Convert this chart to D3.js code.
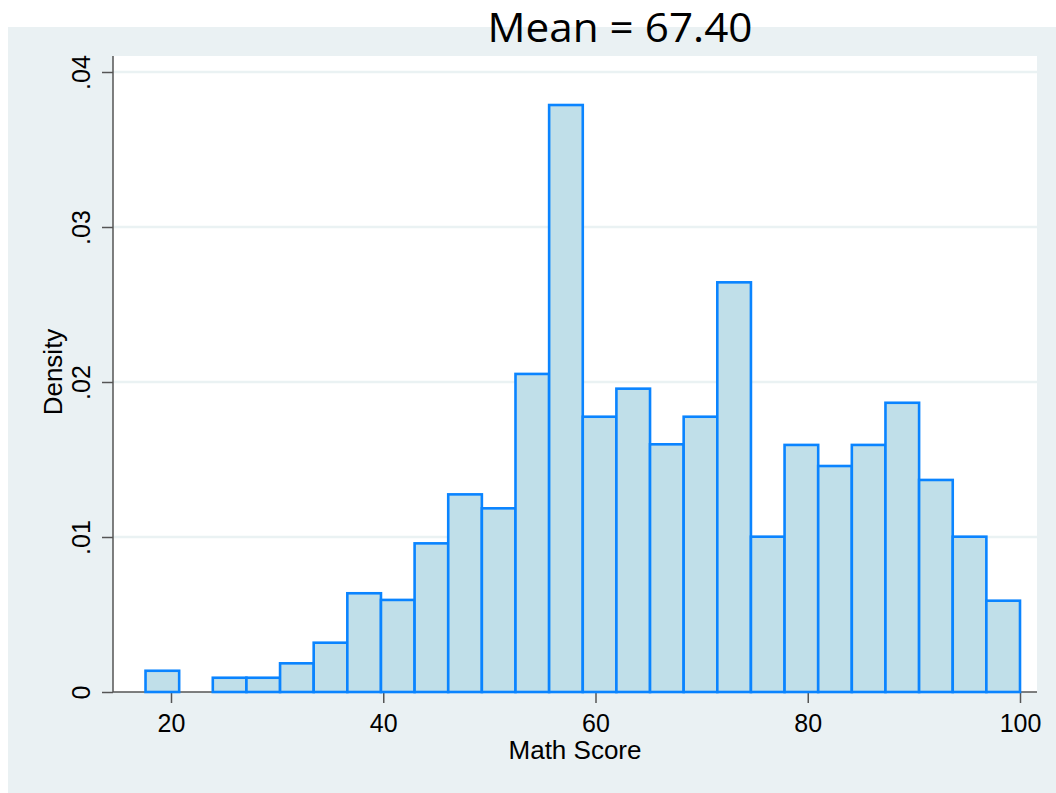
<!DOCTYPE html>
<html>
<head>
<meta charset="utf-8">
<script src="https://cdn.jsdelivr.net/npm/d3@7"></script>
<style>
  body { margin:0; background:#fff; }
  svg { display:block; }
</style>
</head>
<body>
<div id="chart"></div>
<script>
// histogram of math scores, 26 bins from 17.6 to 100
var binStart = 17.6, binEnd = 100;
var density = [0.00137, 0, 0.00092, 0.00092, 0.00185, 0.00318, 0.00637, 0.00594,
	0.00959, 0.01275, 0.01185, 0.02052, 0.03787, 0.01776, 0.01957, 0.01598,
	0.01776, 0.02643, 0.01002, 0.01594, 0.01458, 0.01594, 0.01866, 0.01368,
	0.01002, 0.00589];
var xTicks = [20, 40, 60, 80, 100];
var yTicks = [0, 0.01, 0.02, 0.03, 0.04];
var yTickLabels = ["0", ".01", ".02", ".03", ".04"];
var title = "Mean = 67.40";

var W = 1056, H = 793;
var plot = {l:113, r:1037, t:56, b:692};

var binW = (binEnd - binStart) / density.length;
var bins = density.map(function(d,i){
	return {x0: binStart + i*binW, x1: binStart + (i+1)*binW, d: d};
});

var svg = d3.select("#chart").append("svg")
	.attr("width", W).attr("height", H);

svg.append("rect").attr("x",8).attr("y",27).attr("width",W-8).attr("height",H-27)
	.style("fill","#eaf1f3");
svg.append("rect").attr("x",plot.l).attr("y",plot.t)
	.attr("width",plot.r-plot.l).attr("height",plot.b-plot.t)
	.style("fill","#fff");

var X = d3.scaleLinear().domain([20,100]).range([171,1020]),
	Y = d3.scaleLinear().domain([0,0.04]).range([692,72]);

// grid
svg.selectAll(".grid").data(yTicks.slice(1)).enter().append("line")
	.attr("class","grid")
	.attr("x1",plot.l).attr("x2",plot.r)
	.attr("y1",function(d){return Y(d)}).attr("y2",function(d){return Y(d)})
	.style("stroke","#eaf2f3").style("stroke-width",2.5);

// axes
var yAxis = d3.axisLeft(Y).tickValues(yTicks).tickSize(11)
	.tickFormat(function(d,i){return yTickLabels[i]});
var xAxis = d3.axisBottom(X).tickValues(xTicks).tickSize(11);

var ya = svg.append("g").attr("transform","translate("+plot.l+",0)").call(yAxis);
ya.select(".domain").remove();
ya.selectAll(".tick line").style("stroke","#555").style("stroke-width",1.5);
ya.selectAll(".tick text")
	.attr("x",null).attr("dy",null)
	.attr("transform","translate(-23,0) rotate(-90)")
	.attr("text-anchor","middle")
	.style("font-family","'Liberation Sans', Arial, sans-serif")
	.style("font-size","25px").style("fill","#000");

svg.append("line").attr("x1",plot.l).attr("x2",plot.l).attr("y1",plot.t).attr("y2",plot.b)
	.style("stroke","#555").style("stroke-width",1.5);

var xa = svg.append("g").attr("transform","translate(0,"+plot.b+")").call(xAxis);
xa.select(".domain").remove();
xa.selectAll(".tick line").style("stroke","#555").style("stroke-width",1.5);
xa.selectAll(".tick text").attr("y",40).attr("dy",null)
	.style("font-family","'Liberation Sans', Arial, sans-serif")
	.style("font-size","25px").style("fill","#000");

svg.append("line").attr("x1",plot.l).attr("x2",plot.r).attr("y1",plot.b).attr("y2",plot.b)
	.style("stroke","#555").style("stroke-width",1.5);

// bars
svg.selectAll(".bar").data(bins.filter(function(b){return b.d>0})).enter().append("rect")
	.attr("class","bar")
	.attr("x",function(b){return X(b.x0)})
	.attr("width",function(b){return X(b.x1)-X(b.x0)})
	.attr("y",function(b){return Y(b.d)})
	.attr("height",function(b){return Y(0)-Y(b.d)})
	.style("fill","#c0dfe9")
	.style("stroke","#0a84ff")
	.style("stroke-width",2.6);

// labels
svg.append("text").attr("x",575).attr("y",759).attr("text-anchor","middle")
	.style("font-family","'Liberation Sans', Arial, sans-serif").style("font-size","26px")
	.text("Math Score");
svg.append("text").attr("transform","translate(62,372) rotate(-90)").attr("text-anchor","middle")
	.style("font-family","'Liberation Sans', Arial, sans-serif").style("font-size","26px")
	.text("Density");

svg.append("text").attr("x",620).attr("y",42).attr("text-anchor","middle")
	.attr("textLength",265).attr("lengthAdjust","spacingAndGlyphs")
	.style("font-family","'Open Sans', sans-serif").style("font-size","41px")
	.text(title);
</script>
</body>
</html>
